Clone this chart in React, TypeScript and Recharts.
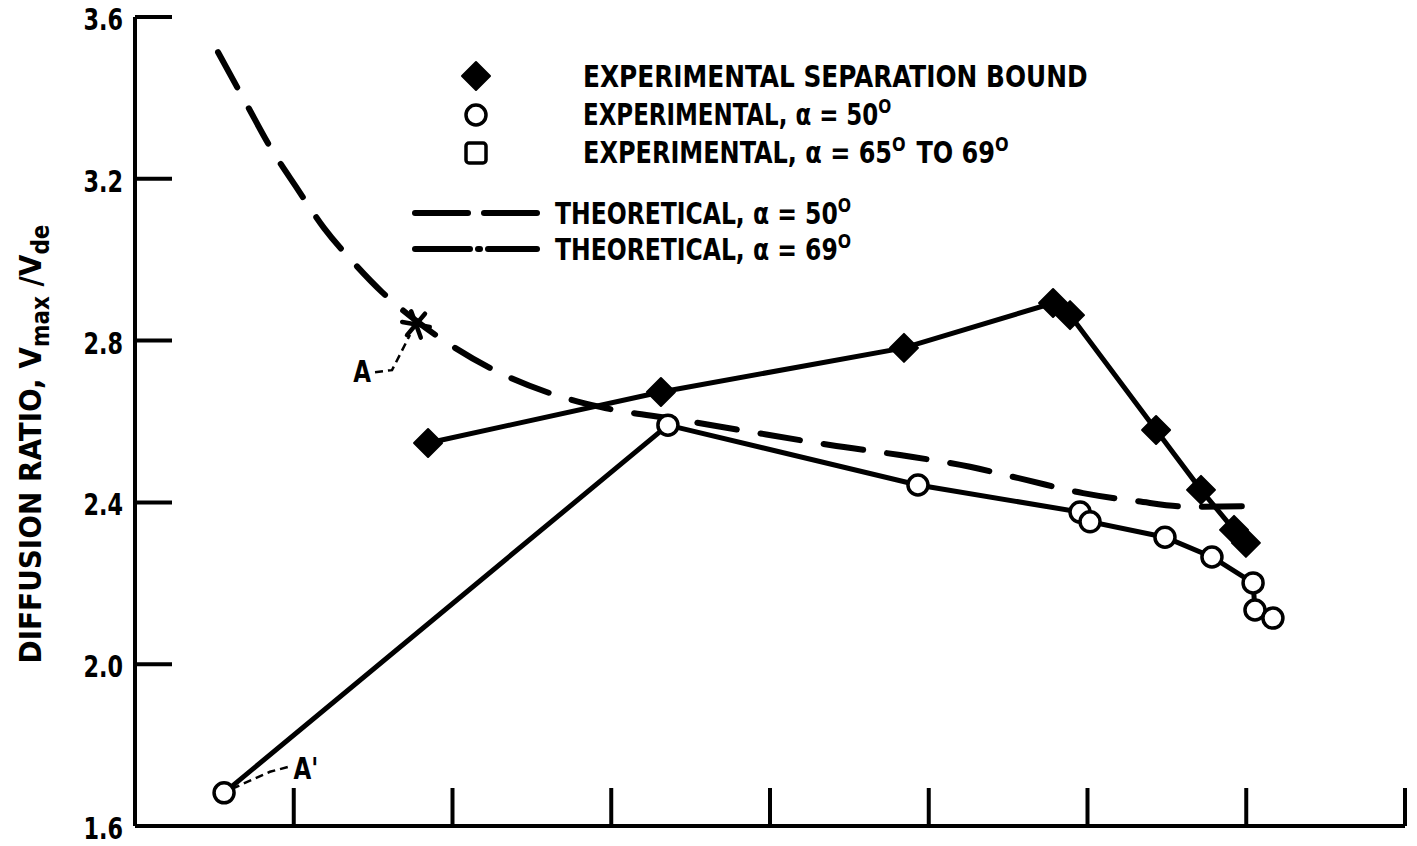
import React from 'react';
import { ComposedChart, Line, XAxis, YAxis, Legend, Scatter } from 'recharts';

// ---------- data ----------
const yTicks = [1.6, 2.0, 2.4, 2.8, 3.2, 3.6];
const yTickLabels = ['1.6', '2.0', '2.4', '2.8', '3.2', '3.6'];
const xTicks = [1, 2, 3, 4, 5, 6, 7, 8];

// Experimental separation bound (filled diamonds)
const boundX = [1.846, 3.313, 4.844, 5.783, 5.89, 6.432, 6.715, 6.923, 6.998];
const boundY = [2.547, 2.673, 2.782, 2.893, 2.863, 2.579, 2.431, 2.332, 2.3];

// Experimental, alpha = 50 deg (open circles)
const exp50X = [0.561, 3.357, 4.932, 5.953, 6.016, 6.488, 6.784, 7.043, 7.055, 7.168];
const exp50Y = [1.682, 2.591, 2.443, 2.376, 2.352, 2.314, 2.265, 2.201, 2.134, 2.114];

// Theoretical, alpha = 50 deg (long dashes)
const theo50X = [0.523, 0.706, 0.863, 1.02, 1.191, 1.367, 1.556, 1.764, 2.016, 2.299, 2.614, 2.929, 3.433, 3.811, 4.378, 4.819, 5.26, 5.619, 5.972, 6.312, 6.658, 7.011];
const theo50Y = [3.513, 3.382, 3.271, 3.177, 3.078, 2.997, 2.92, 2.851, 2.782, 2.72, 2.67, 2.636, 2.604, 2.579, 2.542, 2.517, 2.488, 2.455, 2.423, 2.403, 2.389, 2.391];

// Annotation point A (asterisk) and leaders
const starX = [1.77];
const starY = [2.84];
const leaderAX = [1.512, 1.619, 1.732];
const leaderAY = [2.722, 2.727, 2.814];
const leaderA2X = [0.611, 0.85, 0.964];
const leaderA2Y = [1.692, 1.734, 1.746];
const annoLabels = ['A', "A'"];
const annoX = [1.43, 1.077];
const annoY = [2.725, 1.743];

const zip = (xs: number[], ys: number[]) => xs.map((x, i) => ({ x, y: ys[i] }));
const boundData = zip(boundX, boundY);
const exp50Data = zip(exp50X, exp50Y);
const theo50Data = zip(theo50X, theo50Y);
const starData = zip(starX, starY);
const leaderAData = zip(leaderAX, leaderAY);
const leaderA2Data = zip(leaderA2X, leaderA2Y);
const annoData = annoLabels.map((label, i) => ({ x: annoX[i], y: annoY[i], label }));

const FONT = "'DejaVu Sans Condensed', 'Liberation Sans Narrow', 'DejaVu Sans', sans-serif";

const Diamond = (props: any) => {
  const { cx, cy } = props;
  if (cx == null || cy == null) return null;
  const s = 14;
  return (
    <polygon
      points={`${cx},${cy - s} ${cx + s},${cy} ${cx},${cy + s} ${cx - s},${cy}`}
      fill="#000"
      stroke="#000"
      strokeWidth={2}
      strokeLinejoin="round"
    />
  );
};

const Asterisk = (props: any) => {
  const { cx, cy } = props;
  if (cx == null || cy == null) return null;
  const r = 14;
  const lines = [0, 60, 120].map((a) => {
    const rad = ((a + 10) * Math.PI) / 180;
    return (
      <line
        key={a}
        x1={cx - r * Math.cos(rad)}
        y1={cy - r * Math.sin(rad)}
        x2={cx + r * Math.cos(rad)}
        y2={cy + r * Math.sin(rad)}
        stroke="#000"
        strokeWidth={4.5}
        strokeLinecap="round"
      />
    );
  });
  return <g>{lines}</g>;
};

const AnnoText = (props: any) => {
  const { cx, cy, payload } = props;
  return (
    <g transform={`translate(${cx},${cy}) scale(0.85,1)`}>
      <text x={0} y={0} dy="0.36em" textAnchor="middle" fontFamily={FONT} fontWeight="bold" fontSize={30} fill="#000">
        {payload.label}
      </text>
    </g>
  );
};

const YTick = (props: any) => {
  const { x, y, payload, index } = props;
  const idx = yTicks.indexOf(payload.value);
  return (
    <g>
      <line x1={x} x2={x + 37} y1={y} y2={y} stroke="#000" strokeWidth={4} />
      <g transform={`translate(${x - 12},${y}) scale(0.8,1)`}>
        <text x={0} y={0} dy="0.42em" textAnchor="end" fontFamily={FONT} fontWeight="bold" fontSize={31} fill="#000">
          {yTickLabels[idx >= 0 ? idx : index]}
        </text>
      </g>
    </g>
  );
};

const XTick = (props: any) => {
  const { x, y } = props;
  return <line x1={x} x2={x} y1={y} y2={y - 38} stroke="#000" strokeWidth={4} />;
};

const YLabel = () => {
  const cx = 30;
  const cy = 444;
  return (
    <g transform={`translate(${cx},${cy}) rotate(-90)`}>
      <text
        x={0}
        y={0}
        dy="0.36em"
        textAnchor="middle"
        fontFamily={FONT}
        fontWeight="bold"
        fontSize={31}
        fill="#000"
      >
        <tspan>DIFFUSION RATIO, V</tspan>
        <tspan fontSize={24} dy={8}>max</tspan>
        <tspan dy={-8}> /V</tspan>
        <tspan fontSize={24} dy={8}>de</tspan>
      </text>
    </g>
  );
};

const Sup = ({ children }: any) => (
  <>
    <tspan fontSize={20} dy={-12}>{children}</tspan>
    <tspan dy={12}>{'\u200a'}</tspan>
  </>
);

const Row = ({ x, y, sx, children }: any) => (
  <g transform={`translate(${x},${y}) scale(${sx},1)`}>
    <text x={0} y={0} dy="0.36em" fontFamily={FONT} fontWeight="bold" fontSize={30} fill="#000">
      {children}
    </text>
  </g>
);

const LegendBox = () => {
  return (
    <svg width={1417} height={300} style={{ position: 'absolute', left: 0, top: 0, overflow: 'visible' }}>
      <polygon points="476,62 490,76 476,90 462,76" fill="#000" stroke="#000" strokeWidth={2} strokeLinejoin="round" />
      <circle cx={476} cy={115} r={10} fill="#fff" stroke="#000" strokeWidth={3.5} />
      <rect x={466} y={143} width={20} height={20} rx={3} fill="#fff" stroke="#000" strokeWidth={3.5} />
      <line x1={415} x2={468} y1={213} y2={213} stroke="#000" strokeWidth={6} strokeLinecap="round" />
      <line x1={484} x2={537} y1={213} y2={213} stroke="#000" strokeWidth={6} strokeLinecap="round" />
      <line x1={415} x2={470} y1={249} y2={249} stroke="#000" strokeWidth={6} strokeLinecap="round" />
      <line x1={478} x2={480} y1={249} y2={249} stroke="#000" strokeWidth={6} strokeLinecap="round" />
      <line x1={488} x2={537} y1={249} y2={249} stroke="#000" strokeWidth={6} strokeLinecap="round" />
      <Row x={583} y={76} sx={0.92}>EXPERIMENTAL SEPARATION BOUND</Row>
      <Row x={583} y={114} sx={0.85}>
        EXPERIMENTAL, α = 50<Sup>O</Sup>
      </Row>
      <Row x={583} y={152} sx={0.89}>
        EXPERIMENTAL, α = 65<Sup>O</Sup> TO 69<Sup>O</Sup>
      </Row>
      <Row x={555} y={213} sx={0.87}>
        THEORETICAL, α = 50<Sup>O</Sup>
      </Row>
      <Row x={555} y={249} sx={0.87}>
        THEORETICAL, α = 69<Sup>O</Sup>
      </Row>
    </svg>
  );
};

export default function App() {
  return (
    <div style={{ position: 'absolute', left: 0, top: 0, width: 1417, height: 846, background: '#fff' }}>
      <ComposedChart width={1417} height={846} margin={{ top: 17, right: 12, bottom: 0, left: 0 }}>
        <XAxis
          type="number"
          dataKey="x"
          domain={[0, 8]}
          ticks={xTicks}
          interval={0}
          height={20}
          tickSize={0}
          tickMargin={0}
          tick={<XTick />}
          axisLine={{ stroke: '#000', strokeWidth: 4 }}
          tickLine={false}
          allowDataOverflow
        />
        <YAxis
          type="number"
          dataKey="y"
          domain={[1.6, 3.6]}
          ticks={yTicks}
          interval={0}
          width={135}
          tickSize={0}
          tickMargin={0}
          tick={<YTick />}
          axisLine={{ stroke: '#000', strokeWidth: 4 }}
          tickLine={false}
          label={{ content: <YLabel /> } as any}
          allowDataOverflow
        />
        <Legend
          verticalAlign="middle"
          layout="horizontal"
          content={() => <LegendBox />}
          wrapperStyle={{ left: 0, top: 0, width: 1417, height: 300, pointerEvents: 'none' }}
        />
        <Line
          data={theo50Data}
          dataKey="y"
          type="monotone"
          stroke="#000"
          strokeWidth={6}
          strokeDasharray="40 24"
          strokeLinecap="round"
          dot={false}
          activeDot={false}
          isAnimationActive={false}
          legendType="none"
        />
        <Line
          data={leaderAData}
          dataKey="y"
          type="linear"
          stroke="#000"
          strokeWidth={2.5}
          strokeDasharray="8 5"
          dot={false}
          activeDot={false}
          isAnimationActive={false}
          legendType="none"
        />
        <Line
          data={leaderA2Data}
          dataKey="y"
          type="linear"
          stroke="#000"
          strokeWidth={2.5}
          strokeDasharray="8 5"
          dot={false}
          activeDot={false}
          isAnimationActive={false}
          legendType="none"
        />
        <Line
          data={boundData}
          dataKey="y"
          type="linear"
          stroke="#000"
          strokeWidth={5}
          dot={<Diamond />}
          activeDot={false}
          isAnimationActive={false}
          legendType="none"
        />
        <Line
          data={exp50Data}
          dataKey="y"
          type="linear"
          stroke="#000"
          strokeWidth={5}
          dot={{ r: 10, fill: '#fff', stroke: '#000', strokeWidth: 3.5 }}
          activeDot={false}
          isAnimationActive={false}
          legendType="none"
        />
        <Scatter data={starData} dataKey="y" shape={<Asterisk />} isAnimationActive={false} legendType="none" />
        <Scatter data={annoData} dataKey="y" shape={<AnnoText />} isAnimationActive={false} legendType="none" />
      </ComposedChart>
    </div>
  );
}
